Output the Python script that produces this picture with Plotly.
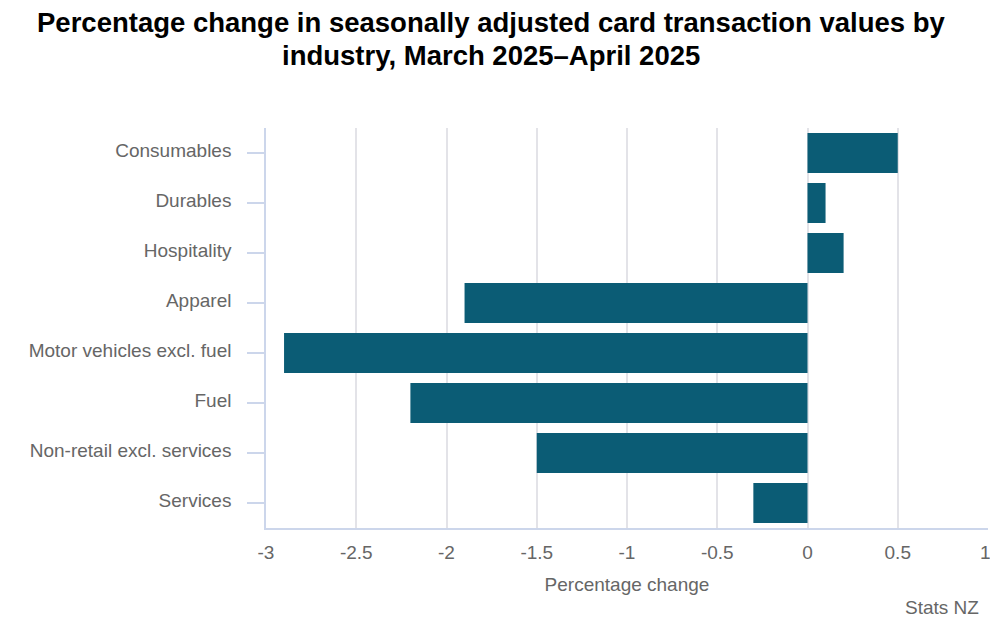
import plotly.graph_objects as go

categories = ["Consumables", "Durables", "Hospitality", "Apparel",
              "Motor vehicles excl. fuel", "Fuel", "Non-retail excl. services", "Services"]
values = [0.5, 0.1, 0.2, -1.9, -2.9, -2.2, -1.5, -0.3]
x_ticks = [-3, -2.5, -2, -1.5, -1, -0.5, 0, 0.5, 1]
x_tick_labels = ["-3", "-2.5", "-2", "-1.5", "-1", "-0.5", "0", "0.5", "1\u00a0"]
title_lines = ["Percentage change in seasonally adjusted card transaction values by",
               "industry, March 2025–April 2025"]

FONT = "Liberation Sans, Arial, sans-serif"

fig = go.Figure(go.Bar(
    x=values, y=categories, orientation="h",
    marker=dict(color="#0b5c75", line=dict(width=0)),
    hovertemplate="%{y}: %{x}<extra></extra>",
))

annotations = [
    dict(text="<b>" + line + "</b>", xref="paper", yref="paper", x=0.3123, y=1,
         xanchor="center", yanchor="middle", yshift=shift, showarrow=False,
         font=dict(family=FONT, size=27.5, color="#000000"))
    for line, shift in zip(title_lines, [106, 73])
]
annotations.append(dict(
    text="Stats NZ", xref="paper", yref="paper", x=1.0, y=0, xanchor="right", yanchor="middle",
    yshift=-79, xshift=-7, showarrow=False, font=dict(size=19, color="#666666"),
))

fig.update_layout(
    width=990, height=613,
    margin=dict(l=258, r=10, t=120, b=93, autoexpand=False),
    paper_bgcolor="white", plot_bgcolor="white",
    bargap=0.2,
    showlegend=False,
    font=dict(family=FONT, color="#666666", size=19),
    xaxis=dict(
        range=[-3, 1], tickvals=x_ticks, ticktext=x_tick_labels,
        automargin=False,
        showgrid=True, gridcolor="#e3e3e8", gridwidth=1.5,
        zeroline=False, showline=True, linecolor="#ccd6eb", linewidth=1.5,
        ticks="", ticklabelstandoff=6,
        tickfont=dict(size=19, color="#666666"),
        title=dict(text="Percentage change", standoff=16, font=dict(size=19, color="#666666")),
    ),
    yaxis=dict(
        categoryorder="array", categoryarray=categories[::-1],
        automargin=False,
        showgrid=False, zeroline=False,
        showline=True, linecolor="#ccd6eb", linewidth=1.5,
        ticks="outside", ticklen=17, tickcolor="#ccd6eb", tickwidth=1.5,
        ticklabelstandoff=12, ticklabelshift=-3,
        tickfont=dict(size=19, color="#666666"),
    ),
    annotations=annotations,
)

fig.write_html("out.html")
